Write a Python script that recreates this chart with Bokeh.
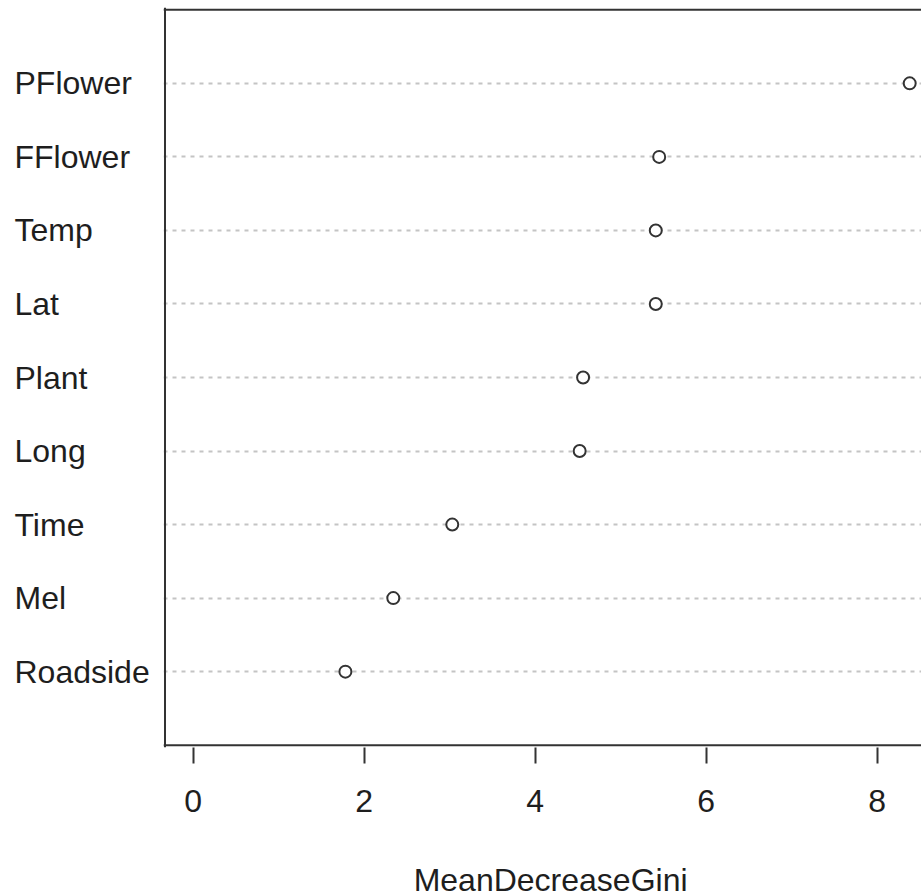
from bokeh.plotting import figure
from bokeh.layouts import row, column
from bokeh.models import ColumnDataSource, Span, FixedTicker, Range1d
from bokeh.core.properties import value
from bokeh.embed import file_html
from bokeh.resources import INLINE

# Variable importance (random forest), ordered bottom to top
variables = ["Roadside", "Mel", "Time", "Long", "Plant", "Lat", "Temp", "FFlower", "PFlower"]
gini = [1.78, 2.34, 3.03, 4.52, 4.56, 5.41, 5.41, 5.45, 8.38]
x_ticks = [0, 2, 4, 6, 8]
x_label = "MeanDecreaseGini"

positions = list(range(1, len(variables) + 1))
source = ColumnDataSource(dict(var=variables, gini=gini, pos=positions))

FONT = "Liberation Sans"
FONT_SIZE = "32px"
INK = "#333333"
TEXT = "#1e1e1e"

# geometry of the page (pixels)
PAGE_W, PAGE_H = 921, 896
MARGIN_W = 163          # width of the label margin
PLOT_W = PAGE_W - MARGIN_W
TITLE_H = 40            # strip holding the x-axis title
TITLE_MID = 17          # vertical middle of the title above the page bottom
MAIN_H = PAGE_H - TITLE_H
TOP = 7                 # space above the frame
FRAME_BOTTOM = 747
BOTTOM = MAIN_H - FRAME_BOTTOM
PX_PER_X = 85.5
X_BOX = -0.33           # left edge of the box in data units
X_FULL_END = 8.69       # right edge of the box (beyond the page)
X_START = X_BOX - 1.5 / PX_PER_X
X_END = X_START + PLOT_W / PX_PER_X
Y_BOX = (0, len(variables) + 1)
PX_PER_Y = 73.54
Y_START = Y_BOX[0] - 2.3 / PX_PER_Y
Y_END = Y_BOX[1] + 2.3 / PX_PER_Y

y_range = Range1d(Y_START, Y_END)

# ---- main dot chart ----
p = figure(width=PLOT_W, height=MAIN_H, output_backend="svg", toolbar_location=None,
           x_range=Range1d(X_START, X_END), y_range=y_range, y_axis_location=None,
           min_border_left=0, min_border_right=0, min_border_top=TOP, min_border_bottom=BOTTOM)
p.outline_line_color = None
p.background_fill_color = "white"
p.border_fill_color = "white"

# dotted guide line for every variable
p.xgrid.grid_line_color = None
p.ygrid.ticker = FixedTicker(ticks=positions)
p.ygrid.grid_line_color = "#c4c4c4"
p.ygrid.grid_line_width = 2
p.ygrid.grid_line_dash = "4 5"

ax = p.xaxis[0]
ax.ticker = FixedTicker(ticks=x_ticks)
ax.axis_line_color = None
ax.major_tick_line_color = INK
ax.major_tick_line_width = 2
ax.major_tick_in = 0
ax.major_tick_out = 16
ax.minor_tick_line_color = None
ax.major_label_text_font = FONT
ax.major_label_text_font_size = FONT_SIZE
ax.major_label_text_color = TEXT
ax.major_label_standoff = 26

# box around the plotting region (left, top, bottom)
for loc, dim in [(X_BOX, "height"), (Y_BOX[1], "width"), (Y_BOX[0], "width")]:
    p.add_layout(Span(location=loc, dimension=dim, line_color=INK, line_width=2))

p.scatter("gini", "pos", source=source, size=12, fill_color="white",
          line_color=INK, line_width=2)

# ---- left margin with the variable names ----
m = figure(width=MARGIN_W, height=MAIN_H, output_backend="svg", toolbar_location=None,
           x_range=Range1d(0, MARGIN_W), y_range=y_range,
           x_axis_location=None, y_axis_location=None,
           min_border_left=0, min_border_right=0, min_border_top=TOP, min_border_bottom=BOTTOM)
m.outline_line_color = None
m.grid.visible = False
m.border_fill_color = "white"
m.text(x=14, y="pos", text="var", source=source, text_align="left", text_baseline="middle",
       text_font=value(FONT), text_font_size=FONT_SIZE, text_color=TEXT)

# ---- x-axis title, centred under the full box ----
title_x = MARGIN_W + ((X_BOX + X_FULL_END) / 2 - X_START) * PX_PER_X
t = figure(width=PAGE_W, height=TITLE_H, output_backend="svg", toolbar_location=None,
           x_range=Range1d(0, PAGE_W), y_range=Range1d(0, TITLE_H),
           x_axis_location=None, y_axis_location=None,
           min_border_left=0, min_border_right=0, min_border_top=0, min_border_bottom=0)
t.outline_line_color = None
t.grid.visible = False
t.border_fill_color = "white"
t.text(x=[title_x], y=[TITLE_MID], text=[x_label], text_align="center", text_baseline="middle",
       text_font=value(FONT), text_font_size=FONT_SIZE, text_color=TEXT)

layout = column(row(m, p, spacing=0), t, spacing=0)
open("out.html", "w").write(file_html(layout, INLINE))
